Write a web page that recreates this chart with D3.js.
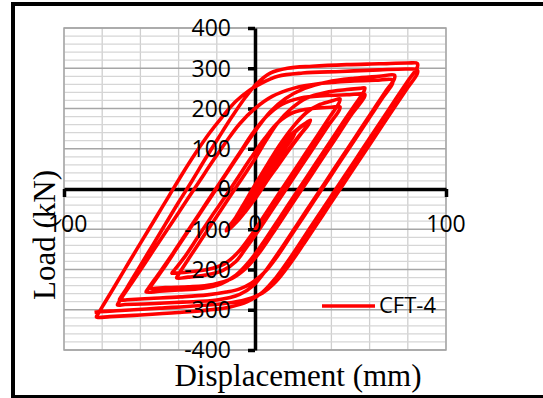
<!DOCTYPE html>
<html>
<head>
<meta charset="utf-8">
<script src="https://cdn.jsdelivr.net/npm/d3@7"></script>
<style>
  body { margin: 0; background: #fff; }
  svg { display: block; }
</style>
</head>
<body>
<svg id="chart" width="543" height="398"></svg>
<script>
// tick labels
const dispTicks = [-100, 0, 100];
const loadTicks = [-400, -300, -200, -100, 0, 100, 200, 300, 400];
const seriesName = "CFT-4";

// hysteresis history, [displacement mm, load kN]
const inner1 = [[0,0],[3,25],[7,58],[10,80],[11,86],[10,78],[6,46],[2,12],[-2,-18],[-5,-40],[-7,-55],[-8,-60],[-7,-53]];
const inner2 = [[-4,-30],[0,2],[5,42],[10,80],[15,112],[19,133],[21,140],[20,132],[15,100],[9,60],[3,18],[-2,-22],[-7,-58],[-10,-78],[-11,-84],[-10,-76]];
const inner3 = [[-7,-52],[-3,-18],[2,22],[8,66],[14,106],[19,134],[21,141],[20,130],[15,96],[10,62],[5,28],[0,-10],[-5,-45],[-9,-70],[-11,-82],[-10,-74]];
const inner4 = [[-6,-48],[-1,-8],[5,38],[11,85],[17,122],[23,150],[27,164],[29,170],[28,162],[23,132],[16,88],[9,44],[3,2],[-3,-38],[-8,-70],[-12,-92],[-14,-100],[-13,-92]];
const inner5 = [[-10,-74],[-6,-42],[-1,0],[5,45],[11,90],[17,126],[23,152],[27,165],[29,171],[28,160],[24,136],[18,98],[12,58],[6,18],[1,-18],[-5,-56],[-10,-84],[-14,-100],[-15,-102],[-14,-94]];
const inner6 = [[-9,-68],[-4,-30],[2,15],[8,62],[14,104],[20,138],[25,158],[28,166],[27,156],[22,124],[15,80],[8,36],[2,-5],[-4,-46],[-9,-78],[-13,-98],[-15,-104],[-14,-96]];
const cycle44a = [[-10,-70],[-5,-30],[1,18],[7,65],[13,110],[20,155],[27,190],[34,210],[41,220],[44.5,224],[44,214],[39,178],[33,135],[26,85],[19,35],[12,-15],[5,-65],[-2,-115],[-9,-158],[-16,-186],[-25,-200],[-35,-206],[-42,-209],[-43.5,-209],[-42,-200]];
const cycle44b = [[-37,-170],[-30,-120],[-23,-70],[-16,-22],[-9,28],[-2,78],[5,125],[12,165],[20,190],[30,200],[40,203],[44.5,204],[44,195],[38,155],[31,105],[24,55],[17,5],[10,-45],[3,-95],[-4,-142],[-10,-180],[-17,-203],[-26,-214],[-35,-219],[-41,-221],[-40,-212]];
const cycle57a = [[-35,-175],[-28,-125],[-21,-75],[-14,-25],[-7,25],[0,75],[6,122],[12,165],[19,200],[27,226],[37,240],[48,247],[55,250],[57.5,251],[57,242],[52,207],[46,165],[39,115],[32,65],[25,15],[18,-35],[11,-85],[4,-135],[-3,-180],[-10,-214],[-18,-236],[-28,-247],[-40,-251],[-50,-254],[-57,-256],[-56,-248]];
const cycle57b = [[-50,-208],[-43,-160],[-36,-110],[-29,-60],[-22,-10],[-15,40],[-8,90],[-1,140],[6,180],[14,210],[24,226],[36,232],[48,234],[57.5,235],[57,226],[51,188],[44,138],[37,88],[30,38],[23,-12],[16,-62],[9,-112],[2,-160],[-5,-198],[-12,-222],[-22,-237],[-35,-243],[-47,-245],[-55,-246],[-54,-238]];
const cycle73a = [[-48,-198],[-41,-148],[-34,-98],[-27,-48],[-20,2],[-13,52],[-6,102],[1,150],[8,192],[16,225],[26,250],[38,266],[52,275],[65,280],[73,283],[73,274],[68,240],[62,197],[55,147],[48,97],[41,47],[34,-3],[27,-53],[20,-103],[13,-153],[6,-200],[-1,-240],[-8,-262],[-20,-276],[-38,-281],[-55,-285],[-68,-287],[-72,-288],[-71,-279]];
const cycle73b = [[-64,-230],[-57,-180],[-50,-130],[-43,-80],[-36,-30],[-29,20],[-22,70],[-15,118],[-8,162],[0,200],[9,230],[20,250],[34,262],[50,268],[63,270],[72,271],[72,262],[67,228],[61,185],[54,135],[47,85],[40,35],[33,-15],[26,-65],[19,-115],[12,-165],[5,-207],[-2,-234],[-8,-248],[-15,-256],[-25,-263],[-39,-268],[-55,-272],[-67,-275],[-71,-276],[-70,-267]];
const cycle85a = [[-67,-245],[-61,-198],[-54,-143],[-47,-88],[-40,-33],[-33,20],[-26,75],[-19,128],[-12,180],[-5,228],[1,262],[8,288],[17,300],[30,305],[48,309],[65,311],[80,313],[85,312],[85,303],[80,268],[74,226],[67,176],[60,126],[53,76],[46,26],[39,-24],[32,-74],[25,-124],[18,-174],[11,-220],[4,-256],[-4,-280],[-13,-293],[-25,-301],[-40,-307],[-60,-313],[-76,-317],[-83,-318],[-82,-309]];
const cycle85b = [[-79,-285],[-73,-238],[-66,-182],[-59,-127],[-52,-72],[-45,-17],[-38,38],[-31,90],[-24,138],[-17,180],[-10,218],[-3,245],[3,262],[12,280],[25,288],[45,292],[65,296],[80,298],[85,296],[85,287],[80,252],[74,210],[67,160],[60,110],[53,60],[46,10],[39,-40],[32,-90],[25,-140],[18,-188],[11,-230],[4,-258],[-5,-275],[-15,-284],[-30,-290],[-50,-296],[-70,-302],[-82,-305],[-84,-306]];

const history = [].concat(inner1, inner2, inner3, inner4, inner5, inner6,
    cycle44a, cycle44b, cycle57a, cycle57b, cycle73a, cycle73b, cycle85a, cycle85b);

const svg = d3.select("#chart");
const tickFont = "'Open Sans', sans-serif";
const titleFont = "'Liberation Serif', 'Times New Roman', serif";

// outer frame (right edge is cropped off in the picture)
svg.append("rect")
    .attr("x", 13).attr("y", 4).attr("width", 600).attr("height", 393)
    .attr("fill", "none").attr("stroke", "#000").attr("stroke-width", 4);

const x = d3.scaleLinear().domain([-100, 100]).range([64, 446]);
const y = d3.scaleLinear().domain([-400, 400]).range([350, 28]);

// gridlines
const grid = svg.append("g");
grid.selectAll(".vgrid").data(d3.range(-100, 101, 20)).join("line")
    .attr("x1", d => x(d)).attr("x2", d => x(d))
    .attr("y1", y(400)).attr("y2", y(-400))
    .attr("stroke", "#cfcfcf").attr("stroke-width", 1.3);
grid.selectAll(".hminor").data(d3.range(-400, 401, 20).filter(d => d % 100 !== 0)).join("line")
    .attr("x1", x(-100)).attr("x2", x(100))
    .attr("y1", d => y(d)).attr("y2", d => y(d))
    .attr("stroke", "#d6d6d6").attr("stroke-width", 1.3);
grid.selectAll(".hmajor").data(loadTicks).join("line")
    .attr("x1", x(-100)).attr("x2", x(100))
    .attr("y1", d => y(d)).attr("y2", d => y(d))
    .attr("stroke", "#a6a6a6").attr("stroke-width", 1.3);
grid.append("rect")
    .attr("x", x(-100)).attr("y", y(400))
    .attr("width", x(100) - x(-100)).attr("height", y(-400) - y(400))
    .attr("fill", "none").attr("stroke", "#a6a6a6").attr("stroke-width", 1.5);

// axis lines and ticks (labels are put on top later)
const yAxis = svg.append("g")
    .attr("transform", `translate(${x(0)},0)`)
    .call(d3.axisLeft(y).tickValues(loadTicks).tickSize(7).tickSizeOuter(0).tickFormat(""));
const xAxis = svg.append("g")
    .attr("transform", `translate(0,${y(0)})`)
    .call(d3.axisBottom(x).tickValues(dispTicks).tickSize(8).tickSizeOuter(0).tickFormat(""));
[yAxis, xAxis].forEach(ax => {
    ax.select(".domain").attr("stroke", "#000").attr("stroke-width", 3.5);
    ax.selectAll(".tick line").attr("stroke", "#000").attr("stroke-width", 3.5);
});

// the series
const line = d3.line()
    .x(d => x(d[0]))
    .y(d => y(d[1]))
    .curve(d3.curveCatmullRom.alpha(0.5));
svg.append("path")
    .datum(history)
    .attr("d", line)
    .attr("fill", "none")
    .attr("stroke", "#ff0000")
    .attr("stroke-width", 3.6)
    .attr("stroke-linejoin", "round");

// tick labels
svg.append("g").selectAll("text").data(loadTicks).join("text")
    .attr("x", x(0) - 24)
    .attr("y", d => y(d))
    .attr("dy", "0.36em")
    .attr("text-anchor", "end")
    .style("font-family", tickFont).style("font-size", "23px").attr("fill", "#000")
    .text(d => d);
svg.append("g").selectAll("text").data(dispTicks).join("text")
    .attr("x", d => x(d))
    .attr("y", 232)
    .attr("text-anchor", "middle")
    .style("font-family", tickFont).style("font-size", "23px").attr("fill", "#000")
    .text(d => d);

// axis titles
svg.append("text")
    .attr("x", 298).attr("y", 386)
    .attr("text-anchor", "middle")
    .style("font-family", titleFont).style("font-size", "31px")
    .text("Displacement (mm)");
svg.append("text")
    .attr("transform", "translate(55,235) rotate(-90)")
    .attr("text-anchor", "middle")
    .style("font-family", titleFont).style("font-size", "31px")
    .text("Load (kN)");

// legend
const legend = svg.append("g");
legend.append("line")
    .attr("x1", 322).attr("x2", 375).attr("y1", 306).attr("y2", 306)
    .attr("stroke", "#ff0000").attr("stroke-width", 3.6);
legend.append("text")
    .attr("x", 379).attr("y", 313)
    .style("font-family", tickFont).style("font-size", "22px")
    .text(seriesName);
</script>
</body>
</html>
